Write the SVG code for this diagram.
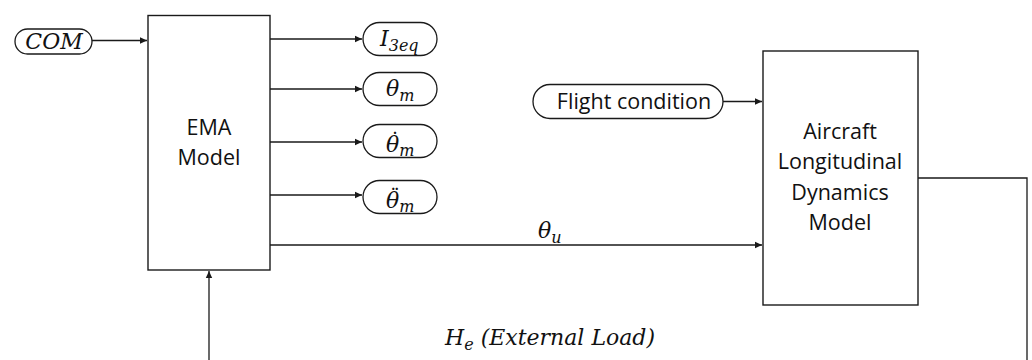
<svg xmlns="http://www.w3.org/2000/svg" width="1032" height="360" viewBox="0 0 1032 360">
<defs>
<marker id="arr" markerWidth="8" markerHeight="8" refX="7" refY="4" orient="auto" markerUnits="userSpaceOnUse">
<path d="M0,0.8 L7,4 L0,7.2 Z" fill="#1a1a1a"/>
</marker>
</defs>
<style>
.box{fill:#fff;stroke:#1a1a1a;stroke-width:1.4}
.pill{fill:#fff;stroke:#1a1a1a;stroke-width:1.3}
.ln{fill:none;stroke:#1a1a1a;stroke-width:1.3}
.sans{font-family:"Open Sans","Liberation Sans",sans-serif;font-size:21.5px;fill:#111;text-anchor:middle}
.math{font-family:"DejaVu Serif","Liberation Serif",serif;font-style:italic;font-size:22px;fill:#111}
.sub{font-size:16px}
.acc{font-family:"DejaVu Serif","Liberation Serif",serif;font-size:16px;font-weight:bold;fill:#111;text-anchor:middle}
</style>
<rect width="1032" height="360" fill="#fff"/>
<g id="connectors">
<path class="ln" d="M92,40.5 H147" marker-end="url(#arr)"/>
<path class="ln" d="M270,39 H362" marker-end="url(#arr)"/>
<path class="ln" d="M268,89 H362" marker-end="url(#arr)"/>
<path class="ln" d="M270,142 H362" marker-end="url(#arr)"/>
<path class="ln" d="M270,195 H362" marker-end="url(#arr)"/>
<path class="ln" d="M723,101.5 H762" marker-end="url(#arr)"/>
<path class="ln" d="M270,245 H762" marker-end="url(#arr)"/>
<path class="ln" d="M209,360 V271" marker-end="url(#arr)"/>
<path class="ln" d="M918,178 H1027 V360"/>
</g>
<g id="com">
<rect class="pill" x="15" y="29" width="77" height="25" rx="12.5"/>
<text class="math" x="54" y="49" text-anchor="middle">COM</text>
</g>
<g id="ema">
<rect class="box" x="148" y="15.5" width="122" height="254.5"/>
<text class="sans" x="209" y="135">EMA</text>
<text class="sans" x="209" y="165">Model</text>
</g>
<g id="i3eq">
<rect class="pill" x="363" y="22.5" width="74" height="33" rx="16.5"/>
<text class="math" x="380" y="46">I<tspan class="sub" dy="5">3eq</tspan></text>
</g>
<g id="thetam">
<rect class="pill" x="363" y="72.5" width="74" height="33" rx="16.5"/>
<text class="math" x="386" y="96">θ<tspan class="sub" dy="5">m</tspan></text>
</g>
<g id="thetamdot">
<rect class="pill" x="363" y="124.5" width="74" height="33" rx="16.5"/>
<text class="math" x="386" y="152" font-size="19">θ<tspan class="sub" dy="4">m</tspan></text>
<text class="acc" x="395" y="144.5">˙</text>
</g>
<g id="thetamddot">
<rect class="pill" x="363" y="180.5" width="74" height="33" rx="16.5"/>
<text class="math" x="386" y="208" font-size="19">θ<tspan class="sub" dy="4">m</tspan></text>
<text class="acc" x="395" y="200.5">¨</text>
</g>
<g id="flight">
<rect class="pill" x="533" y="84.5" width="190" height="34" rx="17"/>
<text class="sans" x="634" y="109">Flight condition</text>
</g>
<g id="aircraft">
<rect class="box" x="763" y="51" width="155" height="254"/>
<text class="sans" x="840" y="139">Aircraft</text>
<text class="sans" x="840" y="169">Longitudinal</text>
<text class="sans" x="840" y="200">Dynamics</text>
<text class="sans" x="840" y="230">Model</text>
</g>
<g id="labels">
<text class="math" x="538" y="238">θ<tspan class="sub" dy="5">u</tspan></text>
<text class="math" x="445" y="345">H<tspan class="sub" dy="5">e</tspan><tspan dy="-5"> (External Load)</tspan></text>
</g>
</svg>
